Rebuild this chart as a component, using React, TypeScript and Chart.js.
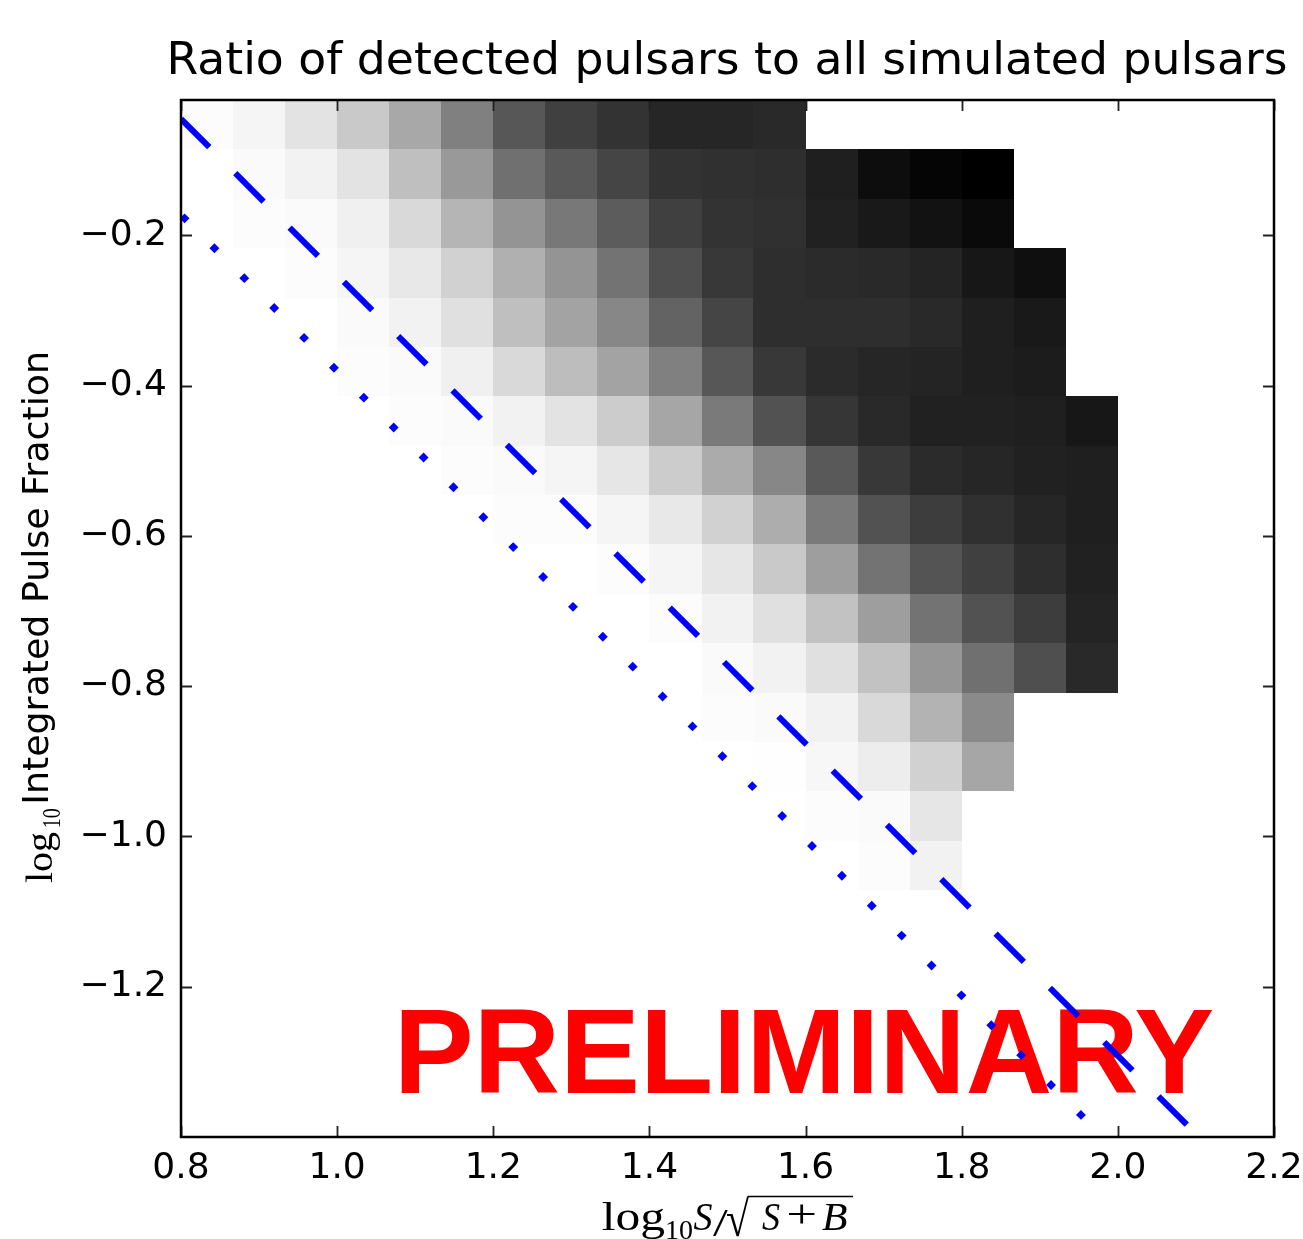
import React, { useEffect, useRef } from 'react';
import { Chart, registerables } from 'chart.js';

Chart.register(...registerables);

// ---- data ----
const X_EDGES = [0.8, 0.8667, 0.9333, 1.0, 1.0667, 1.1333, 1.2, 1.2667, 1.3333, 1.4, 1.4667, 1.5333, 1.6, 1.6667, 1.7333, 1.8, 1.8667, 1.9333, 2.0];
const Y_EDGES = [-0.02, -0.0857, -0.1514, -0.2171, -0.2829, -0.3486, -0.4143, -0.48, -0.5457, -0.6114, -0.6771, -0.7429, -0.8086, -0.8743, -0.94, -1.0057, -1.0714];

const N = null;
// detection ratio per cell, rows from top (highest y) to bottom, columns left to right
const ROW_00 = [0.01, 0.04, 0.11, 0.21, 0.34, 0.50, 0.66, 0.75, 0.80, 0.85, 0.85, 0.84, N, N, N, N, N, N];
const ROW_01 = [0.00, 0.02, 0.05, 0.11, 0.25, 0.40, 0.56, 0.65, 0.73, 0.80, 0.81, 0.82, 0.88, 0.95, 0.98, 1.00, N, N];
const ROW_02 = [0, 0.01, 0.02, 0.06, 0.15, 0.29, 0.42, 0.53, 0.64, 0.75, 0.80, 0.81, 0.87, 0.90, 0.93, 0.96, N, N];
const ROW_03 = [0, 0, 0.01, 0.04, 0.09, 0.18, 0.31, 0.42, 0.55, 0.69, 0.78, 0.82, 0.83, 0.84, 0.86, 0.91, 0.94, N];
const ROW_04 = [0, 0, 0, 0.02, 0.05, 0.12, 0.25, 0.36, 0.47, 0.61, 0.73, 0.82, 0.82, 0.82, 0.84, 0.88, 0.90, N];
const ROW_05 = [0, 0, 0, 0.01, 0.02, 0.06, 0.15, 0.26, 0.36, 0.50, 0.66, 0.78, 0.83, 0.85, 0.86, 0.88, 0.89, N];
const ROW_06 = [0, 0, 0, 0, 0.01, 0.02, 0.05, 0.11, 0.20, 0.35, 0.52, 0.68, 0.79, 0.84, 0.87, 0.87, 0.88, 0.91];
const ROW_07 = [0, 0, 0, 0, 0, 0.01, 0.02, 0.04, 0.10, 0.20, 0.33, 0.47, 0.65, 0.78, 0.83, 0.85, 0.87, 0.88];
const ROW_08 = [0, 0, 0, 0, 0, 0, 0.01, 0.01, 0.04, 0.09, 0.18, 0.32, 0.52, 0.68, 0.76, 0.81, 0.85, 0.88];
const ROW_09 = [0, 0, 0, 0, 0, 0, 0, 0, 0.01, 0.04, 0.10, 0.21, 0.38, 0.55, 0.67, 0.75, 0.82, 0.87];
const ROW_10 = [0, 0, 0, 0, 0, 0, 0, 0, 0, 0.01, 0.05, 0.12, 0.24, 0.38, 0.55, 0.68, 0.76, 0.86];
const ROW_11 = [0, 0, 0, 0, 0, 0, 0, 0, 0, 0, 0.02, 0.05, 0.12, 0.24, 0.41, 0.56, 0.69, 0.84];
const ROW_12 = [0, 0, 0, 0, 0, 0, 0, 0, 0, 0, 0.01, 0.02, 0.05, 0.15, 0.30, 0.46, N, N];
const ROW_13 = [0, 0, 0, 0, 0, 0, 0, 0, 0, 0, 0, 0.005, 0.03, 0.07, 0.18, 0.35, N, N];
const ROW_14 = [0, 0, 0, 0, 0, 0, 0, 0, 0, 0, 0, 0, 0.01, 0.02, 0.10, N, N, N];
const ROW_15 = [0, 0, 0, 0, 0, 0, 0, 0, 0, 0, 0, 0, 0, 0.01, 0.05, N, N, N];
const RATIO_ROWS = [ROW_00, ROW_01, ROW_02, ROW_03, ROW_04, ROW_05, ROW_06, ROW_07, ROW_08, ROW_09, ROW_10, ROW_11, ROW_12, ROW_13, ROW_14, ROW_15];

const DASHED_X = [0.8, 2.104];
const DASHED_Y = [-0.0452, -1.4];
const DOTTED_X = [0.8, 1.981];
const DOTTED_Y = [-0.1728, -1.4];

const X_TICKS = [0.8, 1.0, 1.2, 1.4, 1.6, 1.8, 2.0, 2.2];
const Y_TICKS = [-1.2, -1.0, -0.8, -0.6, -0.4, -0.2];

const TITLE = 'Ratio of detected pulsars to all simulated pulsars';
const Y_LABEL = 'Integrated Pulse Fraction';
const WATERMARK = 'PRELIMINARY';

// ---- helpers ----
function fmt(v: number) {
  const s = Math.abs(v).toFixed(1);
  return v < 0 ? '\u2212' + s : s;
}

function drawInk(ctx: CanvasRenderingContext2D, text: string, font: string, x0: number, x1: number, baseline: number) {
  ctx.font = font;
  ctx.textAlign = 'left';
  ctx.textBaseline = 'alphabetic';
  const m = ctx.measureText(text);
  const w = m.actualBoundingBoxLeft + m.actualBoundingBoxRight;
  const s = (x1 - x0) / w;
  ctx.save();
  ctx.translate(x0, baseline);
  ctx.scale(s, 1);
  ctx.fillText(text, m.actualBoundingBoxLeft, 0);
  ctx.restore();
}

function drawInBox(ctx: CanvasRenderingContext2D, text: string, font: string, x0: number, x1: number, top: number, bottom: number) {
  ctx.font = font;
  ctx.textAlign = 'left';
  ctx.textBaseline = 'alphabetic';
  const m = ctx.measureText(text);
  const w = m.actualBoundingBoxLeft + m.actualBoundingBoxRight;
  const h = m.actualBoundingBoxAscent + m.actualBoundingBoxDescent;
  ctx.save();
  ctx.translate(x0, top);
  ctx.scale((x1 - x0) / w, (bottom - top) / h);
  ctx.fillText(text, m.actualBoundingBoxLeft, m.actualBoundingBoxAscent);
  ctx.restore();
}

const heatmapPlugin = {
  id: 'heatmap',
  beforeDatasetsDraw(chart: any) {
    const { ctx, chartArea, scales } = chart;
    const xs = scales.x;
    const ys = scales.y;
    ctx.save();
    ctx.beginPath();
    ctx.rect(chartArea.left, chartArea.top, chartArea.right - chartArea.left, chartArea.bottom - chartArea.top);
    ctx.clip();
    RATIO_ROWS.forEach((row, r) => {
      row.forEach((v, c) => {
        if (v === null) return;
        const xa = Math.round(xs.getPixelForValue(X_EDGES[c]));
        const xb = Math.round(xs.getPixelForValue(X_EDGES[c + 1]));
        const ya = Math.round(ys.getPixelForValue(Y_EDGES[r]));
        const yb = Math.round(ys.getPixelForValue(Y_EDGES[r + 1]));
        const g = Math.round(255 * (1 - (v as number)));
        ctx.fillStyle = `rgb(${g},${g},${g})`;
        ctx.fillRect(xa, ya, xb - xa, yb - ya);
      });
    });
    ctx.restore();

    // watermark (drawn under the lines)
    ctx.save();
    ctx.fillStyle = '#ff0000';
    drawInk(ctx, WATERMARK, 'bold 120px "Liberation Sans"', 401.7, 1213, 1093);
    ctx.restore();
  },
};

const decorPlugin = {
  id: 'decor',
  afterDraw(chart: any) {
    const { ctx, chartArea, scales } = chart;
    const { left, right, top, bottom } = chartArea;
    const xs = scales.x;
    const ys = scales.y;
    ctx.save();
    // inner ticks on all four sides
    ctx.strokeStyle = '#222';
    ctx.lineWidth = 1.8;
    const tl = 11;
    ctx.beginPath();
    X_TICKS.forEach((v) => {
      const px = Math.round(xs.getPixelForValue(v)) + 0.5;
      ctx.moveTo(px, bottom);
      ctx.lineTo(px, bottom - tl);
      ctx.moveTo(px, top);
      ctx.lineTo(px, top + tl);
    });
    Y_TICKS.forEach((v) => {
      const py = Math.round(ys.getPixelForValue(v)) + 0.5;
      ctx.moveTo(left, py);
      ctx.lineTo(left + tl, py);
      ctx.moveTo(right, py);
      ctx.lineTo(right - tl, py);
    });
    ctx.stroke();
    // frame
    ctx.strokeStyle = '#000';
    ctx.lineWidth = 2.5;
    ctx.strokeRect(left, top, right - left, bottom - top);

    ctx.fillStyle = '#000';
    // title
    drawInk(ctx, TITLE, '45px "DejaVu Sans"', 170.6, 1286, 74);

    // x-axis label: log10 S / sqrt(S + B)
    const base = 1230;
    drawInk(ctx, 'log', '40px "Liberation Serif"', 601.7, 665, base);
    drawInk(ctx, '10', '28px "Liberation Serif"', 667, 692, 1239);
    drawInk(ctx, 'S', 'italic 40px "Liberation Serif"', 693.5, 712.5, base);
    drawInk(ctx, '/', '40px "Liberation Serif"', 713, 729, base + 6);
    drawInBox(ctx, '\u221A', '40px "Liberation Serif"', 727, 749, 1195.5, 1237);
    ctx.beginPath();
    ctx.lineWidth = 1.6;
    ctx.moveTo(748, 1196.5);
    ctx.lineTo(853, 1196.5);
    ctx.stroke();
    drawInk(ctx, 'S', 'italic 40px "Liberation Serif"', 762, 780, base);
    drawInk(ctx, '+', '40px "Liberation Serif"', 789, 815, base - 3);
    drawInk(ctx, 'B', 'italic 40px "Liberation Serif"', 822, 847, base);

    // y-axis label (rotated)
    ctx.save();
    ctx.rotate(-Math.PI / 2);
    drawInk(ctx, 'log', '38px "Liberation Serif"', -883, -832, 52);
    drawInk(ctx, '10', '26px "Liberation Serif"', -826.7, -808.3, 60);
    drawInk(ctx, Y_LABEL, '35.5px "DejaVu Sans"', -801.7, -353.5, 48.3);
    ctx.restore();

    ctx.restore();
  },
};

export default function App() {
  const ref = useRef<HTMLCanvasElement>(null);
  useEffect(() => {
    const canvas = ref.current;
    if (!canvas) return;
    const tickFont = { family: '"DejaVu Sans"', size: 36 };
    const chart = new Chart(canvas, {
      type: 'scatter',
      data: {
        datasets: [
          {
            data: DASHED_X.map((x, i) => ({ x, y: DASHED_Y[i] })),
            showLine: true,
            borderColor: '#0000ff',
            backgroundColor: '#0000ff',
            borderWidth: 6,
            borderDash: [40, 36.8],
            borderCapStyle: 'butt',
            pointRadius: 0,
            fill: false,
            clip: 0,
          },
          {
            data: DOTTED_X.map((x, i) => ({ x, y: DOTTED_Y[i] })),
            showLine: true,
            borderColor: '#0000ff',
            backgroundColor: '#0000ff',
            borderWidth: 7,
            borderDash: [7, 35.26],
            borderDashOffset: -1.5,
            borderCapStyle: 'butt',
            pointRadius: 0,
            fill: false,
            clip: 0,
          },
        ] as any,
      },
      options: {
        responsive: false,
        animation: false,
        devicePixelRatio: 1,
        layout: { padding: { top: 100, right: 29, left: 0, bottom: 0 } },
        plugins: {
          legend: { display: false },
          tooltip: { enabled: false },
          title: { display: false },
        },
        scales: {
          x: {
            type: 'linear',
            min: 0.8,
            max: 2.2,
            grid: { display: false, drawTicks: false },
            border: { display: false },
            afterBuildTicks: (s: any) => {
              s.ticks = X_TICKS.map((v) => ({ value: v }));
            },
            afterFit: (s: any) => {
              s.height = 102;
              s.paddingLeft = 0;
              s.paddingRight = 0;
            },
            ticks: {
              font: tickFont,
              color: '#000',
              padding: 10,
              maxRotation: 0,
              autoSkip: false,
              callback: (v: any) => fmt(Number(v)),
            },
          },
          y: {
            type: 'linear',
            min: -1.4,
            max: -0.02,
            grid: { display: false, drawTicks: false },
            border: { display: false },
            afterBuildTicks: (s: any) => {
              s.ticks = Y_TICKS.map((v) => ({ value: v }));
            },
            afterFit: (s: any) => {
              s.width = 181;
              s.paddingTop = 0;
              s.paddingBottom = 0;
            },
            ticks: {
              font: tickFont,
              color: '#000',
              padding: 14,
              autoSkip: false,
              callback: (v: any) => fmt(Number(v)),
            },
          },
        },
      } as any,
      plugins: [heatmapPlugin, decorPlugin],
    });
    return () => chart.destroy();
  }, []);

  return (
    <div style={{ position: 'fixed', left: 0, top: 0, width: 1303, height: 1239, background: '#fff' }}>
      <canvas ref={ref} width={1303} height={1239} style={{ width: '1303px', height: '1239px', display: 'block' }} />
    </div>
  );
}
